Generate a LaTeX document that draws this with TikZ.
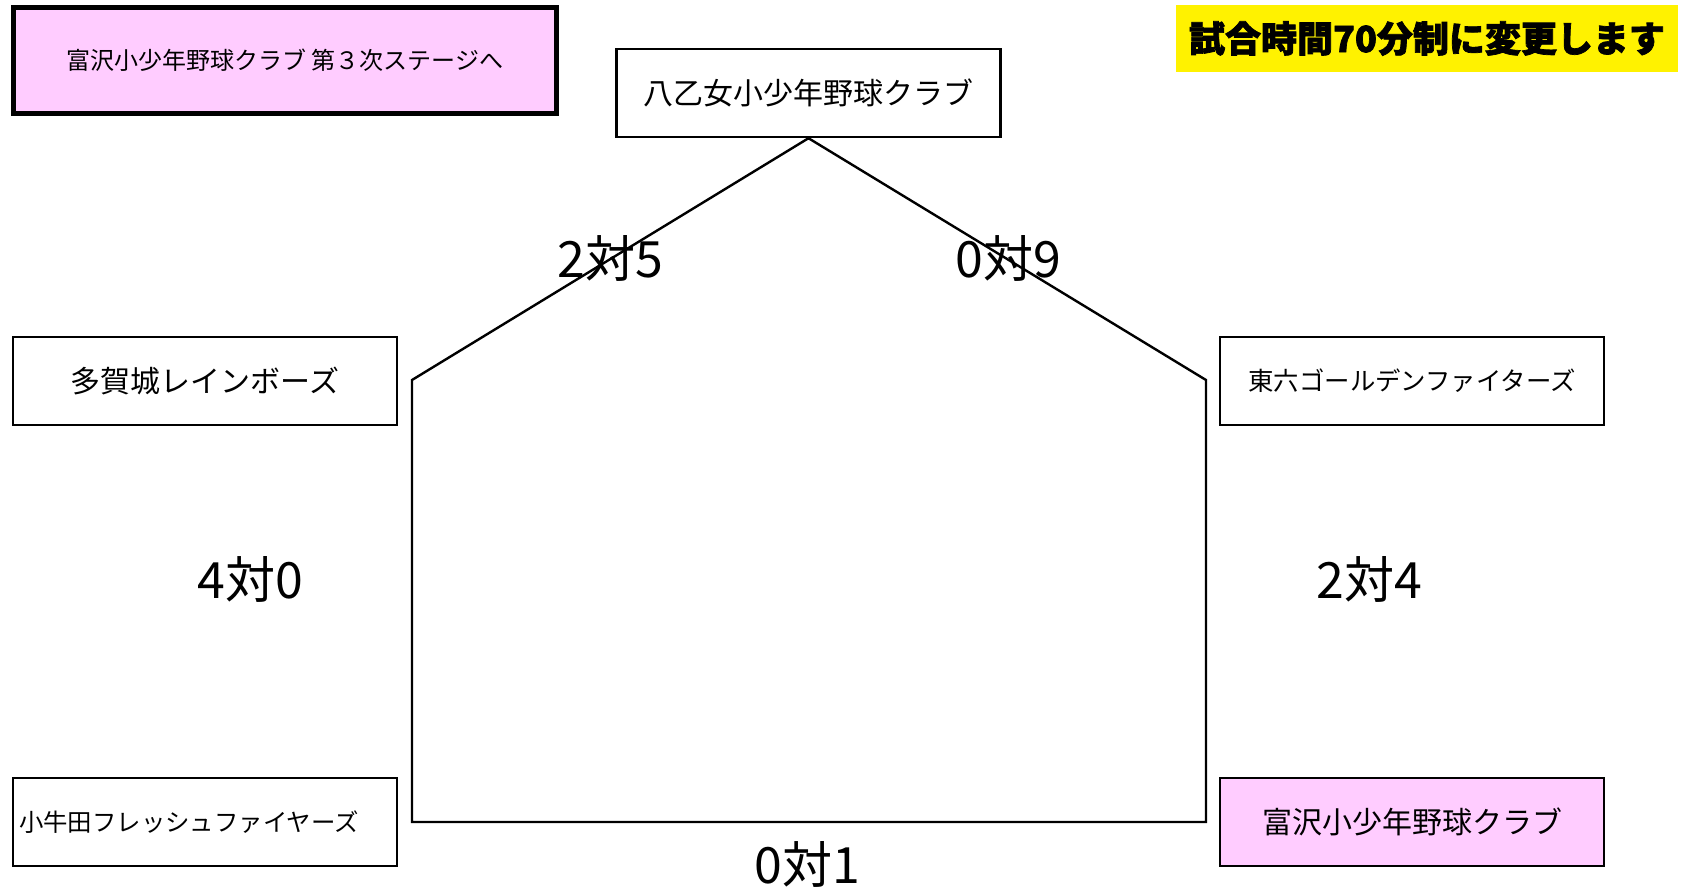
\documentclass[tikz,border=0pt]{standalone}
\usepackage{fontspec}
\newfontfamily\jp{Noto Sans CJK JP}
\definecolor{clubpink}{HTML}{FFCCFF}
\tikzset{
	team/.style={draw, line width=1.2pt, minimum width=192pt, minimum height=44pt, inner sep=3pt, font=\jp\fontsize{15}{18}\selectfont},
	score/.style={font=\jp\fontsize{25}{30}\selectfont},
}
\begin{document}
\begin{tikzpicture}[x=0.5pt,y=-0.5pt]
	\useasboundingbox (0,0) rectangle (1687,889);
	
	%Notices
	\node[draw, line width=2.5pt, fill=clubpink, minimum width=271.5pt, minimum height=53pt, font=\jp\fontsize{12}{14}\selectfont] (N1) at (285,60.5) {富沢小少年野球クラブ 第３次ステージへ};
	\node[fill=yellow, minimum width=251pt, minimum height=33.5pt, font=\jp\bfseries\addfontfeature{FakeBold=2}\fontsize{18}{22}\selectfont] (N2) at (1427,38.5) {試合時間70分制に変更します};
	
	%Teams
	\node[team] (T0) at (808.5,93) {八乙女小少年野球クラブ};
	\node[team] (T1) at (205,381) {多賀城レインボーズ};
	\node[team, font=\jp\fontsize{12.7}{15}\selectfont] (T2) at (1412,381) {東六ゴールデンファイターズ};
	\node[team, text width=186pt, align=left, font=\jp\fontsize{12.2}{15}\selectfont] (T3) at (205,822) {小牛田フレッシュファイヤーズ};
	\node[team, fill=clubpink] (T4) at (1412,822) {富沢小少年野球クラブ};
	
	%League lines
	\coordinate (L1) at (412,380);
	\coordinate (L2) at (412,822);
	\coordinate (L3) at (1206,822);
	\coordinate (L4) at (1206,380);
	\draw[line width=1.2pt] (T0.south) -- (L1) -- (L2) -- (L3) -- (L4) -- (T0.south);
	
	%Scores
	\node[score] (S1) at (610,258) {2対5};
	\node[score] (S2) at (1008,258) {0対9};
	\node[score] (S3) at (250,579) {4対0};
	\node[score] (S4) at (1369,579) {2対4};
	\node[score] (S5) at (807,864) {0対1};
\end{tikzpicture}
\end{document}
